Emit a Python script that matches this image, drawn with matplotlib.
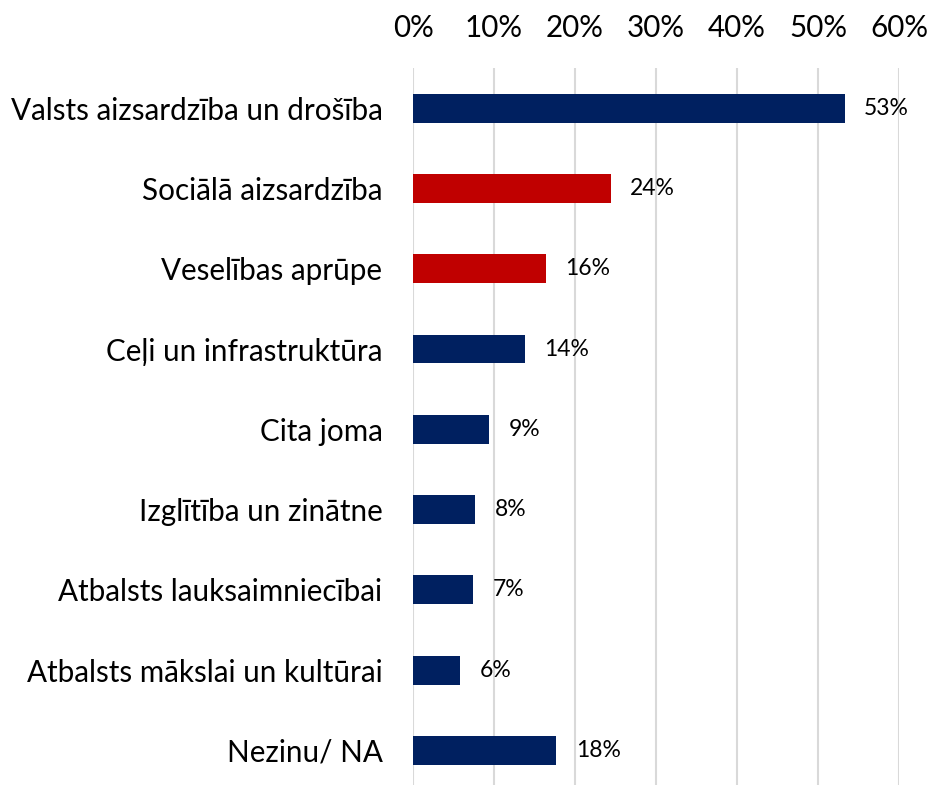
import matplotlib.pyplot as plt

categories = ["Valsts aizsardzība un drošība", "Sociālā aizsardzība", "Veselības aprūpe",
              "Ceļi un infrastruktūra", "Cita joma", "Izglītība un zinātne",
              "Atbalsts lauksaimniecībai", "Atbalsts mākslai un kultūrai", "Nezinu/ NA"]
values = [53.3, 24.4, 16.4, 13.8, 9.4, 7.7, 7.4, 5.8, 17.7]
highlight = ["Sociālā aizsardzība", "Veselības aprūpe"]
ticks = [0, 10, 20, 30, 40, 50, 60]

plt.rcParams['font.family'] = ['Lato', 'DejaVu Sans']

navy = "#002060"
red = "#C00000"
colors = [red if c in highlight else navy for c in categories]

fig = plt.figure(figsize=(9.35, 7.85), dpi=100)
ax = fig.add_axes([413 / 935, 0, (899 - 413) / 935, (785 - 68) / 785])

y = list(range(len(categories)))
ax.barh(y, values, height=0.36, color=colors, zorder=3)
for yi, v in zip(y, values):
    ax.annotate(f"{round(v)}%", (v, yi), xytext=(14, 0), textcoords="offset points",
                va="center", ha="left", fontsize=16.5)

ax.set_xlim(0, 60)
ax.set_ylim(8.43, -0.5)
ax.set_xticks(ticks)
ax.set_xticklabels([f"{t}%" for t in ticks], fontsize=21.3)
ax.xaxis.tick_top()
ax.set_yticks(y)
ax.set_yticklabels(categories, fontsize=21.3)
ax.tick_params(axis="x", length=0, pad=19)
ax.tick_params(axis="y", length=0, pad=22)
ax.grid(axis="x", color="#D9D9D9", linewidth=1.5, zorder=0)
for s in ax.spines.values():
    s.set_visible(False)

fig.savefig("out.png", dpi=100)
